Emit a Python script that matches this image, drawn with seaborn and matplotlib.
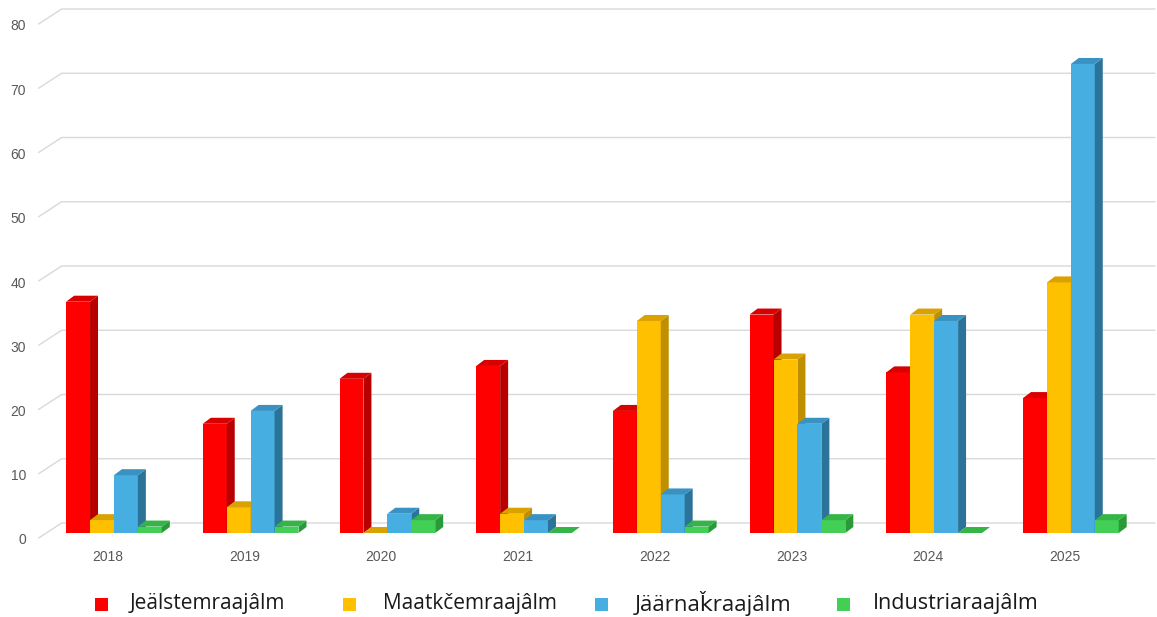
import numpy as np
import pandas as pd
import matplotlib
matplotlib.use("Agg")
import matplotlib.pyplot as plt
from matplotlib.patches import Polygon, Rectangle
from matplotlib.transforms import ScaledTranslation
import seaborn as sns

# --- data ---
years = ["2018", "2019", "2020", "2021", "2022", "2023", "2024", "2025"]
series_names = ["Jeälstemraajâlm", "Maatkčemraajâlm", "Jäärnaǩraajâlm", "Industriaraajâlm"]
jealstem = [36, 17, 24, 26, 19, 34, 25, 21]
maatkcem = [2, 4, 0, 3, 33, 27, 34, 39]
jaarnak = [9, 19, 3, 2, 6, 17, 33, 73]
industria = [1, 1, 2, 0, 1, 2, 0, 2]
y_ticks = [0, 10, 20, 30, 40, 50, 60, 70, 80]

front_colors = ["#FF0000", "#FFC000", "#46AEE0", "#43CF55"]
side_colors = ["#B80000", "#BF8F00", "#2C7399", "#2A9A38"]
top_colors = ["#D80000", "#D9A200", "#3A92C2", "#35B447"]

df = pd.DataFrame({
    "year": years * 4,
    "series": np.repeat(series_names, len(years)),
    "value": jealstem + maatkcem + jaarnak + industria,
})

sns.set_style("white")
plt.rcParams["font.family"] = ["Liberation Sans", "DejaVu Sans"]

fig = plt.figure(figsize=(11.57, 6.17), dpi=100)
ax = fig.add_axes([45.6 / 1157, 84 / 617, 1093.6 / 1157, 514 / 617])
ax.set_facecolor("none")

sns.barplot(data=df, x="year", y="value", hue="series", hue_order=series_names,
            palette=front_colors, width=0.7, linewidth=0, saturation=1,
            legend=False, ax=ax)
ax.set_xlim(-0.5, 7.5)
ax.set_ylim(0, 80)
for s in ax.spines.values():
    s.set_visible(False)
ax.set_xlabel("")
ax.set_ylabel("")


def px2data(dx, dy):
    inv = ax.transData.inverted()
    x0, y0 = inv.transform((0, 0))
    x1, y1 = inv.transform((dx, dy))
    return x1 - x0, y1 - y0


# pseudo 3D: side and top faces on every bar
ddx, ddy = px2data(8, 6)
n_years = len(years)
for i, bar in enumerate(ax.patches):
    k = i // n_years
    z = 3 + k
    bar.set_zorder(z)
    x, w, h = bar.get_x(), bar.get_width(), bar.get_height()
    side = Polygon([(x + w, 0), (x + w + ddx, ddy), (x + w + ddx, h + ddy), (x + w, h)],
                   closed=True, facecolor=side_colors[k], edgecolor="none", zorder=z)
    top = Polygon([(x, h), (x + w, h), (x + w + ddx, h + ddy), (x + ddx, h + ddy)],
                  closed=True, facecolor=top_colors[k], edgecolor="none", zorder=z)
    ax.add_patch(side)
    ax.add_patch(top)

# back-wall gridlines with little diagonal at the left
fx, fy = px2data(-7, -5)
bx, by = px2data(16, 10)
x_end = ax.transData.inverted().transform((1155, 0))[0]
for v in y_ticks:
    ax.plot([-0.5 + fx, -0.5 + bx, x_end], [v + fy, v + by, v + by],
            color="#D9D9D9", lw=1, zorder=1, clip_on=False)

# ticks
ax.set_yticks(y_ticks)
ax.set_yticklabels([str(v) for v in y_ticks])
ax.tick_params(axis="y", length=0, pad=14, labelsize=10, labelcolor="#595959")
ax.tick_params(axis="x", length=0, pad=12, labelsize=10, labelcolor="#595959")
dpi_tr = fig.dpi_scale_trans
for lab in ax.get_yticklabels():
    lab.set_transform(lab.get_transform() + ScaledTranslation(0, -6 / 100, dpi_tr))
for lab in ax.get_xticklabels():
    lab.set_transform(lab.get_transform() + ScaledTranslation(-6 / 100, 0, dpi_tr))

# legend drawn by hand along the bottom
leg_sq_x = [95, 343, 595, 837]
leg_txt_x = [130, 383, 635, 873]
leg_size = [15, 15, 16, 15.5]
for k, name in enumerate(series_names):
    fig.patches.append(Rectangle((leg_sq_x[k] / 1157, (617 - 611) / 617), 13 / 1157, 13 / 617,
                                 transform=fig.transFigure, facecolor=front_colors[k],
                                 edgecolor="none"))
    fig.text(leg_txt_x[k] / 1157, (617 - 604) / 617, name, ha="left", va="center",
             fontsize=leg_size[k], color="#1a1a1a", family=["Open Sans", "DejaVu Sans"])

fig.savefig("out.png", dpi=100)
